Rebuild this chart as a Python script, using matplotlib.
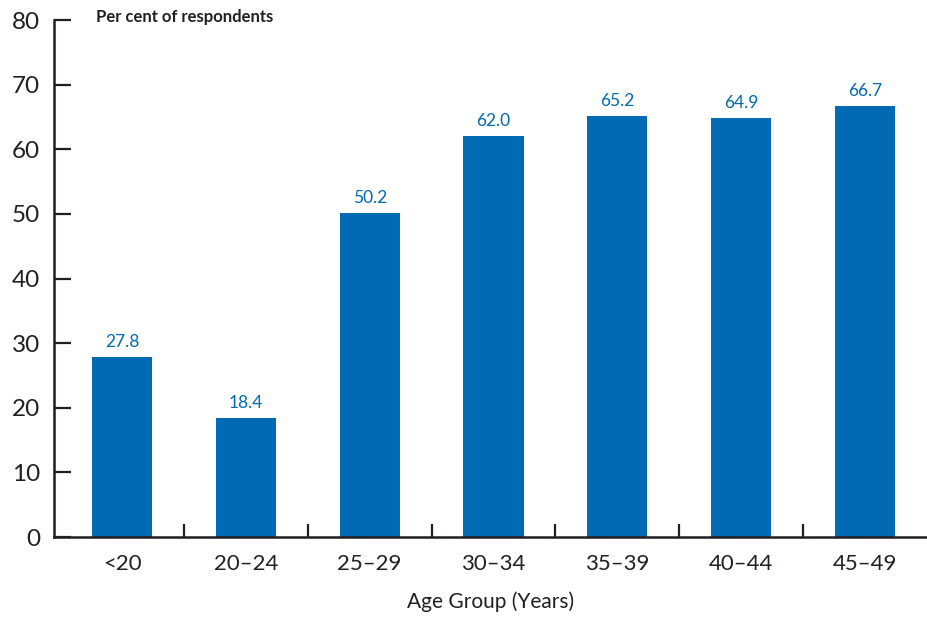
import numpy as np
import matplotlib.pyplot as plt

# survey results by age group
age_groups = ['<20', '20\u201324', '25\u201329', '30\u201334', '35\u201339', '40\u201344', '45\u201349']
percent = [27.8, 18.4, 50.2, 62.0, 65.2, 64.9, 66.7]
y_ticks = [0, 10, 20, 30, 40, 50, 60, 70, 80]

bar_color = '#006AB5'
text_color = '#231F20'

plt.rcParams['font.family'] = ['Lato', 'DejaVu Sans']

fig = plt.figure(figsize=(9.28, 6.18), dpi=100)
ax = fig.add_axes([0.0582, 0.131, 0.9418, 0.8366])

x = np.arange(len(age_groups))
bars = ax.bar(x, percent, width=0.485, color=bar_color, zorder=2)

# value labels above each bar
for xi, val in zip(x, percent):
    ax.annotate(f'{val:.1f}', (xi, val), xytext=(0, 5), textcoords='offset points',
                ha='center', va='bottom', fontsize=12.5, color=bar_color)

ax.set_xlim(-0.55, len(age_groups) - 0.49)
ax.set_ylim(0, 80)

# category labels at bar centres, small tick marks between bars
ax.set_xticks(x)
ax.set_xticklabels(age_groups, fontsize=16, color=text_color)
ax.set_xticks(x[:-1] + 0.5, minor=True)
ax.tick_params(axis='x', which='major', length=0, pad=12)
ax.tick_params(axis='x', which='minor', direction='in', length=9.5, width=1.6, color=text_color)

ax.set_yticks(y_ticks)
ax.set_yticklabels([str(t) for t in y_ticks], fontsize=17.5, color=text_color)
ax.tick_params(axis='y', direction='in', length=12.5, width=1.6, color=text_color, pad=10)

for side in ['top', 'right']:
    ax.spines[side].set_visible(False)
for side in ['left', 'bottom']:
    ax.spines[side].set_linewidth(1.8)
    ax.spines[side].set_color(text_color)

ax.set_xlabel('Age Group (Years)', fontsize=15, color=text_color, labelpad=13)
fig.text(96 / 928, 1 - 17 / 618, 'Per cent of respondents', fontsize=12,
         fontweight='bold', color=text_color, ha='left', va='center')

fig.savefig('out.png', dpi=100)
